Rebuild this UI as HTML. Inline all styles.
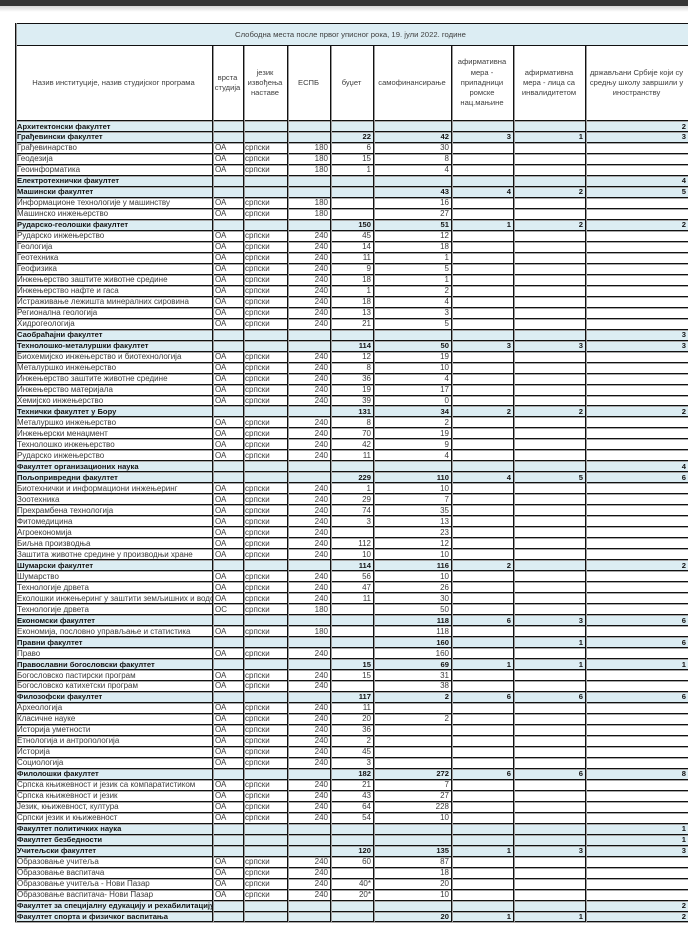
<!DOCTYPE html>
<html>
<head>
<meta charset="utf-8">
<style>
html,body{margin:0;padding:0;}
body{width:688px;height:928px;position:relative;overflow:hidden;background:#fff;font-family:"Liberation Sans","DejaVu Sans",sans-serif;}
.topbar{position:absolute;left:0;top:0;width:688px;height:6px;background:#363636;}
.shade{position:absolute;left:0;top:6px;width:688px;height:6px;background:linear-gradient(#d8d8d8,#fff);}
.title{position:absolute;left:15px;top:23px;width:675px;height:23px;box-sizing:border-box;background:#dcedf3;border-top:1px solid #111;border-bottom:1px solid #111;font-size:7.7px;color:#404040;text-align:center;line-height:22px;padding-right:4px;}
.hc{position:absolute;top:46px;height:74px;display:flex;align-items:center;justify-content:center;text-align:center;font-size:7.6px;line-height:10.3px;color:#404040;}
.vl{position:absolute;width:1px;background:#111;box-shadow:1px 0 0 #9a9a9a;}
.r{position:absolute;left:15px;width:675px;height:10.98px;box-sizing:border-box;border-top:1px solid #111;box-shadow:inset 0 1px 0 #a8a8a8;font-size:8px;color:#3a3a3a;}
.r.s{background:#dcedf3;font-weight:bold;color:#141414;font-size:7.6px;}
.r span{position:absolute;top:0.5px;line-height:10px;white-space:nowrap;}
.n{left:2px}
.v{left:200px}
.j{left:230px}
.e{left:272px;width:41px;text-align:right}
.b{left:315px;width:41px;text-align:right}
.f{left:358px;width:76px;text-align:right}
.a{left:436px;width:60px;text-align:right}
.m{left:498px;width:70px;text-align:right}
.d{left:570px;width:101px;text-align:right}
.clip{width:195px;overflow:hidden;}
.bot{position:absolute;left:15px;top:921px;width:675px;height:1px;background:#111;box-shadow:0 1px 0 #a8a8a8;}
</style>
</head>
<body>
<div class="topbar"></div>
<div class="shade"></div>

<div class="title">Слободна места после првог уписног рока, 19. јули 2022. године</div>

<div class="hc" style="left:15px;width:197px;">Назив институције, назив студијског програма</div>
<div class="hc" style="left:212px;width:31px;">врста<br>студија</div>
<div class="hc" style="left:243px;width:44px;">језик<br>извођења<br>наставе</div>
<div class="hc" style="left:287px;width:43px;">ЕСПБ</div>
<div class="hc" style="left:330px;width:43px;">буџет</div>
<div class="hc" style="left:373px;width:78px;">самофинансирање</div>
<div class="hc" style="left:451px;width:62px;">афирмативна<br>мера -<br>припадници<br>ромске<br>нац.мањине</div>
<div class="hc" style="left:513px;width:72px;">афирмативна<br>мера - лица са<br>инвалидитетом</div>
<div class="hc" style="left:585px;width:103px;">држављани Србије који су<br>средњу школу завршили у<br>иностранству</div>

<div class="r s" style="top:120px"><span class="n">Архитектонски факултет</span><span class="d">2</span></div>
<div class="r s" style="top:130.98px"><span class="n">Грађевински факултет</span><span class="b">22</span><span class="f">42</span><span class="a">3</span><span class="m">1</span><span class="d">3</span></div>
<div class="r" style="top:141.96px"><span class="n">Грађевинарство</span><span class="v">ОА</span><span class="j">српски</span><span class="e">180</span><span class="b">6</span><span class="f">30</span></div>
<div class="r" style="top:152.94px"><span class="n">Геодезија</span><span class="v">ОА</span><span class="j">српски</span><span class="e">180</span><span class="b">15</span><span class="f">8</span></div>
<div class="r" style="top:163.92px"><span class="n">Геоинформатика</span><span class="v">ОА</span><span class="j">српски</span><span class="e">180</span><span class="b">1</span><span class="f">4</span></div>
<div class="r s" style="top:174.9px"><span class="n">Електротехнички факултет</span><span class="d">4</span></div>
<div class="r s" style="top:185.88px"><span class="n">Машински факултет</span><span class="f">43</span><span class="a">4</span><span class="m">2</span><span class="d">5</span></div>
<div class="r" style="top:196.86px"><span class="n">Информационе технологије у машинству</span><span class="v">ОА</span><span class="j">српски</span><span class="e">180</span><span class="f">16</span></div>
<div class="r" style="top:207.84px"><span class="n">Машинско инжењерство</span><span class="v">ОА</span><span class="j">српски</span><span class="e">180</span><span class="f">27</span></div>
<div class="r s" style="top:218.82px"><span class="n">Рударско-геолошки факултет</span><span class="b">150</span><span class="f">51</span><span class="a">1</span><span class="m">2</span><span class="d">2</span></div>
<div class="r" style="top:229.8px"><span class="n">Рударско инжењерство</span><span class="v">ОА</span><span class="j">српски</span><span class="e">240</span><span class="b">45</span><span class="f">12</span></div>
<div class="r" style="top:240.78px"><span class="n">Геологија</span><span class="v">ОА</span><span class="j">српски</span><span class="e">240</span><span class="b">14</span><span class="f">18</span></div>
<div class="r" style="top:251.76px"><span class="n">Геотехника</span><span class="v">ОА</span><span class="j">српски</span><span class="e">240</span><span class="b">11</span><span class="f">1</span></div>
<div class="r" style="top:262.74px"><span class="n">Геофизика</span><span class="v">ОА</span><span class="j">српски</span><span class="e">240</span><span class="b">9</span><span class="f">5</span></div>
<div class="r" style="top:273.72px"><span class="n">Инжењерство заштите животне средине</span><span class="v">ОА</span><span class="j">српски</span><span class="e">240</span><span class="b">18</span><span class="f">1</span></div>
<div class="r" style="top:284.7px"><span class="n">Инжењерство нафте и гаса</span><span class="v">ОА</span><span class="j">српски</span><span class="e">240</span><span class="b">1</span><span class="f">2</span></div>
<div class="r" style="top:295.68px"><span class="n">Истраживање лежишта минералних сировина</span><span class="v">ОА</span><span class="j">српски</span><span class="e">240</span><span class="b">18</span><span class="f">4</span></div>
<div class="r" style="top:306.66px"><span class="n">Регионална геологија</span><span class="v">ОА</span><span class="j">српски</span><span class="e">240</span><span class="b">13</span><span class="f">3</span></div>
<div class="r" style="top:317.64px"><span class="n">Хидрогеологија</span><span class="v">ОА</span><span class="j">српски</span><span class="e">240</span><span class="b">21</span><span class="f">5</span></div>
<div class="r s" style="top:328.62px"><span class="n">Саобраћајни факултет</span><span class="d">3</span></div>
<div class="r s" style="top:339.6px"><span class="n">Технолошко-металуршки факултет</span><span class="b">114</span><span class="f">50</span><span class="a">3</span><span class="m">3</span><span class="d">3</span></div>
<div class="r" style="top:350.58px"><span class="n">Биохемијско инжењерство и биотехнологија</span><span class="v">ОА</span><span class="j">српски</span><span class="e">240</span><span class="b">12</span><span class="f">19</span></div>
<div class="r" style="top:361.56px"><span class="n">Металуршко инжењерство</span><span class="v">ОА</span><span class="j">српски</span><span class="e">240</span><span class="b">8</span><span class="f">10</span></div>
<div class="r" style="top:372.54px"><span class="n">Инжењерство заштите животне средине</span><span class="v">ОА</span><span class="j">српски</span><span class="e">240</span><span class="b">36</span><span class="f">4</span></div>
<div class="r" style="top:383.52px"><span class="n">Инжењерство материјала</span><span class="v">ОА</span><span class="j">српски</span><span class="e">240</span><span class="b">19</span><span class="f">17</span></div>
<div class="r" style="top:394.5px"><span class="n">Хемијско инжењерство</span><span class="v">ОА</span><span class="j">српски</span><span class="e">240</span><span class="b">39</span><span class="f">0</span></div>
<div class="r s" style="top:405.48px"><span class="n">Технички факултет у Бору</span><span class="b">131</span><span class="f">34</span><span class="a">2</span><span class="m">2</span><span class="d">2</span></div>
<div class="r" style="top:416.46px"><span class="n">Металуршко инжењерство</span><span class="v">ОА</span><span class="j">српски</span><span class="e">240</span><span class="b">8</span><span class="f">2</span></div>
<div class="r" style="top:427.44px"><span class="n">Инжењерски менаџмент</span><span class="v">ОА</span><span class="j">српски</span><span class="e">240</span><span class="b">70</span><span class="f">19</span></div>
<div class="r" style="top:438.42px"><span class="n">Технолошко инжењерство</span><span class="v">ОА</span><span class="j">српски</span><span class="e">240</span><span class="b">42</span><span class="f">9</span></div>
<div class="r" style="top:449.4px"><span class="n">Рударско инжењерство</span><span class="v">ОА</span><span class="j">српски</span><span class="e">240</span><span class="b">11</span><span class="f">4</span></div>
<div class="r s" style="top:460.38px"><span class="n">Факултет организационих наука</span><span class="d">4</span></div>
<div class="r s" style="top:471.36px"><span class="n">Пољопривредни факултет</span><span class="b">229</span><span class="f">110</span><span class="a">4</span><span class="m">5</span><span class="d">6</span></div>
<div class="r" style="top:482.34px"><span class="n">Биотехнички и информациони инжењеринг</span><span class="v">ОА</span><span class="j">српски</span><span class="e">240</span><span class="b">1</span><span class="f">10</span></div>
<div class="r" style="top:493.32px"><span class="n">Зоотехника</span><span class="v">ОА</span><span class="j">српски</span><span class="e">240</span><span class="b">29</span><span class="f">7</span></div>
<div class="r" style="top:504.3px"><span class="n">Прехрамбена технологија</span><span class="v">ОА</span><span class="j">српски</span><span class="e">240</span><span class="b">74</span><span class="f">35</span></div>
<div class="r" style="top:515.28px"><span class="n">Фитомедицина</span><span class="v">ОА</span><span class="j">српски</span><span class="e">240</span><span class="b">3</span><span class="f">13</span></div>
<div class="r" style="top:526.26px"><span class="n">Агроекономија</span><span class="v">ОА</span><span class="j">српски</span><span class="e">240</span><span class="f">23</span></div>
<div class="r" style="top:537.24px"><span class="n">Биљна производња</span><span class="v">ОА</span><span class="j">српски</span><span class="e">240</span><span class="b">112</span><span class="f">12</span></div>
<div class="r" style="top:548.22px"><span class="n">Заштита животне средине у производњи хране</span><span class="v">ОА</span><span class="j">српски</span><span class="e">240</span><span class="b">10</span><span class="f">10</span></div>
<div class="r s" style="top:559.2px"><span class="n">Шумарски факултет</span><span class="b">114</span><span class="f">116</span><span class="a">2</span><span class="d">2</span></div>
<div class="r" style="top:570.18px"><span class="n">Шумарство</span><span class="v">ОА</span><span class="j">српски</span><span class="e">240</span><span class="b">56</span><span class="f">10</span></div>
<div class="r" style="top:581.16px"><span class="n">Технологије дрвета</span><span class="v">ОА</span><span class="j">српски</span><span class="e">240</span><span class="b">47</span><span class="f">26</span></div>
<div class="r" style="top:592.14px"><span class="n clip">Еколошки инжењеринг у заштити земљишних и водотокова</span><span class="v">ОА</span><span class="j">српски</span><span class="e">240</span><span class="b">11</span><span class="f">30</span></div>
<div class="r" style="top:603.12px"><span class="n">Технологије дрвета</span><span class="v">ОС</span><span class="j">српски</span><span class="e">180</span><span class="f">50</span></div>
<div class="r s" style="top:614.1px"><span class="n">Економски факултет</span><span class="f">118</span><span class="a">6</span><span class="m">3</span><span class="d">6</span></div>
<div class="r" style="top:625.08px"><span class="n">Економија, пословно управљање и статистика</span><span class="v">ОА</span><span class="j">српски</span><span class="e">180</span><span class="f">118</span></div>
<div class="r s" style="top:636.06px"><span class="n">Правни факултет</span><span class="f">160</span><span class="m">1</span><span class="d">6</span></div>
<div class="r" style="top:647.04px"><span class="n">Право</span><span class="v">ОА</span><span class="j">српски</span><span class="e">240</span><span class="f">160</span></div>
<div class="r s" style="top:658.02px"><span class="n">Православни богословски факултет</span><span class="b">15</span><span class="f">69</span><span class="a">1</span><span class="m">1</span><span class="d">1</span></div>
<div class="r" style="top:669px"><span class="n">Богословско пастирски програм</span><span class="v">ОА</span><span class="j">српски</span><span class="e">240</span><span class="b">15</span><span class="f">31</span></div>
<div class="r" style="top:679.98px"><span class="n">Богословско катихетски програм</span><span class="v">ОА</span><span class="j">српски</span><span class="e">240</span><span class="f">38</span></div>
<div class="r s" style="top:690.96px"><span class="n">Филозофски факултет</span><span class="b">117</span><span class="f">2</span><span class="a">6</span><span class="m">6</span><span class="d">6</span></div>
<div class="r" style="top:701.94px"><span class="n">Археологија</span><span class="v">ОА</span><span class="j">српски</span><span class="e">240</span><span class="b">11</span></div>
<div class="r" style="top:712.92px"><span class="n">Класичне науке</span><span class="v">ОА</span><span class="j">српски</span><span class="e">240</span><span class="b">20</span><span class="f">2</span></div>
<div class="r" style="top:723.9px"><span class="n">Историја уметности</span><span class="v">ОА</span><span class="j">српски</span><span class="e">240</span><span class="b">36</span></div>
<div class="r" style="top:734.88px"><span class="n">Етнологија и антропологија</span><span class="v">ОА</span><span class="j">српски</span><span class="e">240</span><span class="b">2</span></div>
<div class="r" style="top:745.86px"><span class="n">Историја</span><span class="v">ОА</span><span class="j">српски</span><span class="e">240</span><span class="b">45</span></div>
<div class="r" style="top:756.84px"><span class="n">Социологија</span><span class="v">ОА</span><span class="j">српски</span><span class="e">240</span><span class="b">3</span></div>
<div class="r s" style="top:767.82px"><span class="n">Филолошки факултет</span><span class="b">182</span><span class="f">272</span><span class="a">6</span><span class="m">6</span><span class="d">8</span></div>
<div class="r" style="top:778.8px"><span class="n">Српска књижевност и језик са компаратистиком</span><span class="v">ОА</span><span class="j">српски</span><span class="e">240</span><span class="b">21</span><span class="f">7</span></div>
<div class="r" style="top:789.78px"><span class="n">Српска књижевност и језик</span><span class="v">ОА</span><span class="j">српски</span><span class="e">240</span><span class="b">43</span><span class="f">27</span></div>
<div class="r" style="top:800.76px"><span class="n">Језик, књижевност, култура</span><span class="v">ОА</span><span class="j">српски</span><span class="e">240</span><span class="b">64</span><span class="f">228</span></div>
<div class="r" style="top:811.74px"><span class="n">Српски језик и књижевност</span><span class="v">ОА</span><span class="j">српски</span><span class="e">240</span><span class="b">54</span><span class="f">10</span></div>
<div class="r s" style="top:822.72px"><span class="n">Факултет политичких наука</span><span class="d">1</span></div>
<div class="r s" style="top:833.7px"><span class="n">Факултет безбедности</span><span class="d">1</span></div>
<div class="r s" style="top:844.68px"><span class="n">Учитељски факултет</span><span class="b">120</span><span class="f">135</span><span class="a">1</span><span class="m">3</span><span class="d">3</span></div>
<div class="r" style="top:855.66px"><span class="n">Образовање учитеља</span><span class="v">ОА</span><span class="j">српски</span><span class="e">240</span><span class="b">60</span><span class="f">87</span></div>
<div class="r" style="top:866.64px"><span class="n">Образовање васпитача</span><span class="v">ОА</span><span class="j">српски</span><span class="e">240</span><span class="f">18</span></div>
<div class="r" style="top:877.62px"><span class="n">Образовање учитеља - Нови Пазар</span><span class="v">ОА</span><span class="j">српски</span><span class="e">240</span><span class="b">40*</span><span class="f">20</span></div>
<div class="r" style="top:888.6px"><span class="n">Образовање васпитача- Нови Пазар</span><span class="v">ОА</span><span class="j">српски</span><span class="e">240</span><span class="b">20*</span><span class="f">10</span></div>
<div class="r s" style="top:899.58px"><span class="n">Факултет за специјалну едукацију и рехабилитацију</span><span class="d">2</span></div>
<div class="r s" style="top:910.56px"><span class="n">Факултет спорта и физичког васпитања</span><span class="f">20</span><span class="a">1</span><span class="m">1</span><span class="d">2</span></div>
<div class="bot"></div>

<div class="vl" style="left:15px;top:23px;height:899px;"></div>
<div class="vl" style="left:212px;top:46px;height:876px;"></div>
<div class="vl" style="left:243px;top:46px;height:876px;"></div>
<div class="vl" style="left:287px;top:46px;height:876px;"></div>
<div class="vl" style="left:330px;top:46px;height:876px;"></div>
<div class="vl" style="left:373px;top:46px;height:876px;"></div>
<div class="vl" style="left:451px;top:46px;height:876px;"></div>
<div class="vl" style="left:513px;top:46px;height:876px;"></div>
<div class="vl" style="left:585px;top:46px;height:876px;"></div>
</body>
</html>
